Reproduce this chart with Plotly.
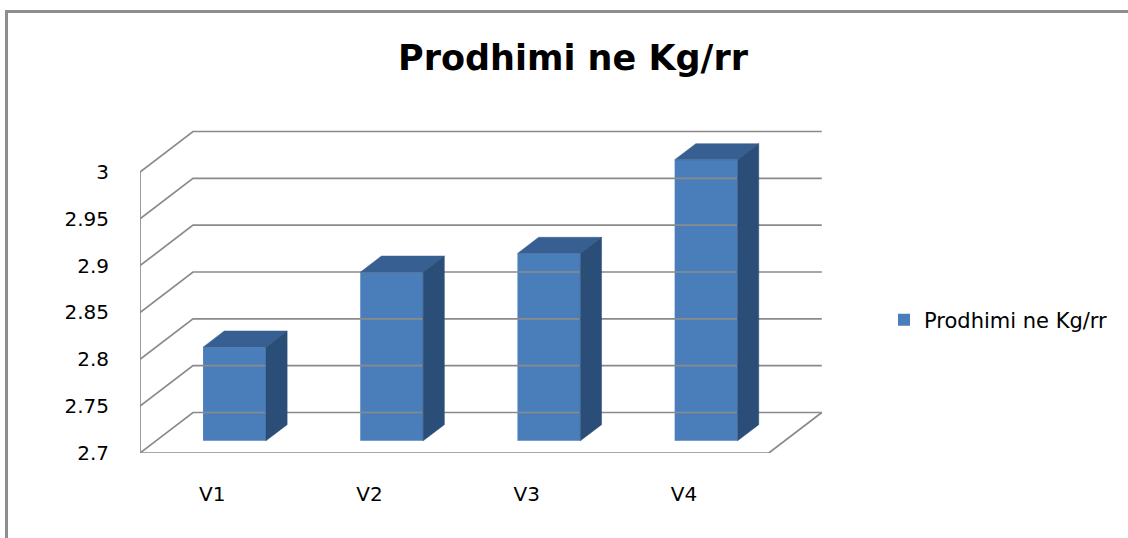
import plotly.graph_objects as go

categories = ["V1", "V2", "V3", "V4"]
values = [2.8, 2.88, 2.9, 3.0]
tick_values = [2.7, 2.75, 2.8, 2.85, 2.9, 2.95, 3.0]
tick_labels = ["2.7", "2.75", "2.8", "2.85", "2.9", "2.95", "3"]
series_name = "Prodhimi ne Kg/rr"
title_text = "Prodhimi ne Kg/rr"

# layout geometry (pixels)
W, H = 1128, 538
L, R, T, B = 140, 302, 130, 85
PW, PH = W - L - R, H - T - B
XPX = 157.2          # px per category
YPX = 936.7          # px per value unit
X_MAX = PW / XPX
Y_MIN = 2.7
Y_MAX = Y_MIN + PH / YPX

# oblique depth in data units
DX = 53 / XPX
DY = 40.5 / YPX
F0, F1 = 0.30, 0.70   # bar front / back depth fraction
BW = 0.40
GRID = "#8a8a8a"
FRONT = "#4a7ebb"
TOP = "#375f92"
SIDE = "#2a4e78"
FONT = "DejaVu Sans, Carlito, Calibri, sans-serif"

fig = go.Figure()

# gridlines on back wall with diagonals to the front axis
for v in tick_values:
    fig.add_trace(go.Scatter(
        x=[0, DX, len(categories) + DX], y=[v, v + DY, v + DY],
        mode="lines", line=dict(color=GRID, width=1.7),
        hoverinfo="skip", showlegend=False))
n = len(categories)
# floor outline
fig.add_trace(go.Scatter(
    x=[0, n, n + DX], y=[Y_MIN, Y_MIN, Y_MIN + DY],
    mode="lines", line=dict(color=GRID, width=1.7),
    hoverinfo="skip", showlegend=False))
# front vertical axis line
fig.add_trace(go.Scatter(
    x=[0, 0], y=[Y_MIN, tick_values[-1]],
    mode="lines", line=dict(color=GRID, width=1.7),
    hoverinfo="skip", showlegend=False))
# left tick marks
tl_x = 8 / XPX
for v in tick_values:
    fig.add_trace(go.Scatter(
        x=[-tl_x, 0], y=[v, v], mode="lines",
        line=dict(color=GRID, width=1.7), hoverinfo="skip",
        showlegend=False, cliponaxis=False))
# bottom tick marks
tl_y = 8 / YPX
for i in range(n + 1):
    fig.add_trace(go.Scatter(
        x=[i, i], y=[Y_MIN, Y_MIN - tl_y], mode="lines",
        line=dict(color=GRID, width=1.7), hoverinfo="skip",
        showlegend=False, cliponaxis=False))

# bars: front faces
xc = [i + 0.5 + F0 * DX for i in range(n)]
fig.add_trace(go.Bar(
    x=xc, y=[v - Y_MIN for v in values], base=Y_MIN + F0 * DY,
    width=BW, marker=dict(color=FRONT, line=dict(width=0)),
    name=series_name, showlegend=True))

ddx = (F1 - F0) * DX
for i, v in enumerate(values):
    xl = xc[i] - BW / 2
    xr = xc[i] + BW / 2
    yt0 = v + F0 * DY
    yt1 = v + F1 * DY
    # top face
    fig.add_trace(go.Scatter(
        x=[xl, xr, xr + ddx, xl + ddx, xl], y=[yt0, yt0, yt1, yt1, yt0],
        fill="toself", fillcolor=TOP, mode="lines",
        line=dict(color=TOP, width=0.5), hoverinfo="skip", showlegend=False))
    # side face
    yb0 = Y_MIN + F0 * DY
    yb1 = Y_MIN + F1 * DY
    fig.add_trace(go.Scatter(
        x=[xr, xr, xr + ddx, xr + ddx, xr], y=[yb0, yt0, yt1, yb1, yb0],
        fill="toself", fillcolor=SIDE, mode="lines",
        line=dict(color=SIDE, width=0.5), hoverinfo="skip", showlegend=False))


def px_x(X):
    return (X - L) / PW


def px_y(Y):
    return (H - B - Y) / PH


fig.update_layout(
    width=W, height=H,
    margin=dict(l=L, r=R, t=T, b=B, autoexpand=False),
    paper_bgcolor="white", plot_bgcolor="white",
    font=dict(family=FONT, color="#000000", size=20),
    xaxis=dict(range=[0, X_MAX], showgrid=False, zeroline=False, showline=False,
               tickvals=[i + 0.46 for i in range(n)], ticktext=categories,
               ticks="", ticklabelstandoff=27, tickfont=dict(size=20)),
    yaxis=dict(range=[Y_MIN, Y_MAX], showgrid=False, zeroline=False, showline=False,
               tickvals=tick_values, ticktext=tick_labels, ticks="",
               ticklabelstandoff=30, tickfont=dict(size=20)),
    legend=dict(x=px_x(884), y=px_y(320), xanchor="left", yanchor="middle",
                font=dict(size=21), bgcolor="rgba(0,0,0,0)"),
    barmode="overlay",
    annotations=[dict(text="<b>" + title_text + "</b>", x=px_x(573), y=px_y(58),
                      xref="paper", yref="paper", showarrow=False,
                      font=dict(size=35, color="#000000", family=FONT),
                      xanchor="center", yanchor="middle")],
    shapes=[dict(type="path", xref="paper", yref="paper",
                 path=f"M {px_x(1140)} {px_y(11.5)} L {px_x(6.5)} {px_y(11.5)} L {px_x(6.5)} {px_y(560)}",
                 line=dict(color="#8e8e8e", width=3))],
)

fig.write_html("out.html", config={"displayModeBar": False},
               post_script="document.body.style.margin='0';")
